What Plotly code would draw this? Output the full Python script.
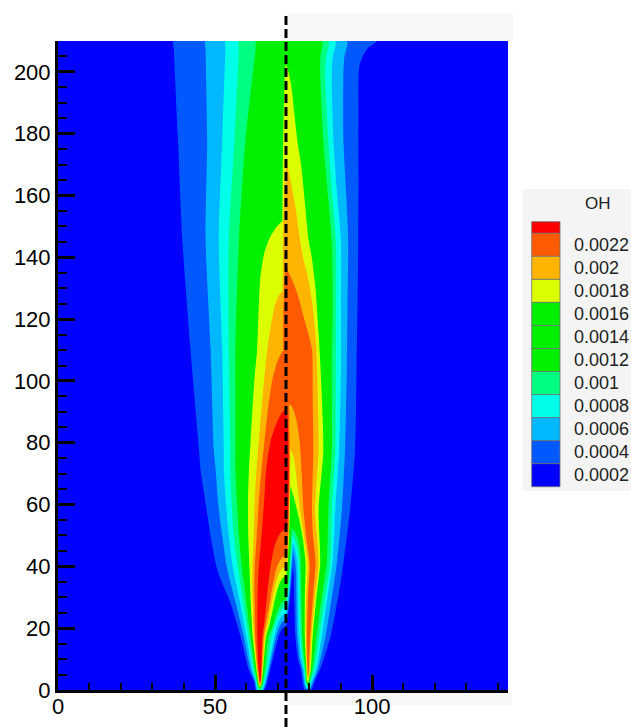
import plotly.graph_objects as go

# ---------------- data ----------------
# OH mass fraction field, shown as filled contour bands.
# Left of the split line: flame A, right of it: flame B.
SPLIT_X = 72.6
X_MAX = 143.3
Y_MAX = 210

# contour levels (units of 1e-4) and the colour of the region above each level
LEVELS = [2, 4, 6, 8, 10, 16, 18, 20, 22]
LEVEL_COLORS = ["#0058ff", "#00b8ff", "#00ffe8", "#00ff80", "#00f000",
                "#dcff00", "#ffb400", "#ff5a00", "#ff0000"]
BACKGROUND_COLOR = "#0000ff"   # region below 0.0002

# Left flame: outer boundary (base -> top) and inner arch (split line -> base), (x, y) points
left_out_02 = [(63.0, 0), (62.5, 2.4), (60.7, 6.7), (58.1, 17.4), (54.9, 28.2), (50.7, 39.0), (48.6, 49.8),
               (47.0, 60.5), (45.4, 71.3), (44.9, 77.8), (42.2, 110.1), (39.6, 145.6), (38.2, 177.9),
               (36.9, 207), (36.8, 210)]
left_in_02 = [(72.6, 20.7), (71.8, 20.3), (71.0, 19.2), (70.3, 17.4), (67.6, 6.7), (65.6, 0)]

left_out_04 = [(63.3, 0), (62.8, 2.4), (61.3, 6.7), (59.1, 17.4), (56.6, 28.2), (53.9, 39.0), (52.3, 49.8),
               (51.0, 60.5), (50.2, 71.3), (49.6, 77.8), (48.6, 110.1), (47.0, 145.6), (47.5, 177.9),
               (47.0, 207), (47.0, 210)]
left_in_04 = [(72.6, 22.8), (71.8, 22.3), (70.9, 21.2), (69.5, 17.4), (67.2, 6.7), (65.3, 0)]

left_out_06 = [(63.6, 0), (63.1, 2.4), (61.9, 6.7), (60.0, 17.4), (58.0, 28.2), (55.8, 39.0), (54.4, 49.8),
               (53.5, 60.5), (52.8, 71.3), (52.8, 77.8), (52.3, 110.1), (51.2, 145.6), (52.3, 177.9),
               (53.3, 207), (53.4, 210)]
left_in_06 = [(72.6, 25.0), (71.8, 24.5), (70.8, 23.2), (69.8, 21.0), (68.9, 17.4), (66.8, 6.7), (65.0, 0)]

left_out_08 = [(63.8, 0.3), (63.3, 2.4), (62.3, 6.7), (60.7, 17.4), (59.0, 28.2), (57.4, 39.0), (56.0, 49.8),
               (55.3, 60.5), (54.9, 71.3), (54.9, 77.8), (54.4, 110.1), (54.4, 145.6), (56.2, 177.9),
               (57.6, 207), (57.7, 210)]
left_in_08 = [(72.6, 27.1), (71.8, 26.6), (70.8, 25.3), (69.5, 22.5), (68.0, 17.4), (66.4, 6.7), (64.8, 0.3)]

left_out_10 = [(64.0, 0.6), (63.5, 2.4), (62.7, 6.7), (61.3, 17.4), (60.0, 28.2), (58.6, 39.0), (57.6, 49.8),
               (57.0, 60.5), (56.5, 71.3), (56.5, 77.8), (56.5, 110.1), (57.6, 145.6), (59.7, 177.9),
               (62.9, 207), (63.2, 210)]
left_in_10 = [(72.6, 29.3), (71.8, 28.8), (70.8, 27.5), (69.5, 24.5), (68.2, 20.0), (67.1, 17.4), (65.9, 6.7),
              (64.6, 0.6)]

left_out_16 = [(64.1, 1.2), (63.8, 2.4), (63.2, 6.7), (62.0, 17.4), (61.4, 28.2), (61.0, 39.0), (60.6, 49.8),
               (60.5, 60.5), (60.8, 71.3), (61.3, 80), (62.5, 100), (63.4, 110.1), (64.4, 133), (65.6, 141),
               (67.3, 146), (69.5, 149.7), (71.2, 151.5), (72.6, 152.1)]
left_in_16 = [(72.6, 37.0), (71.7, 36.4), (70.8, 35.0), (69.6, 31.5), (68.4, 26.0), (67.3, 21.0), (66.3, 17.4),
              (65.3, 6.7), (64.5, 1.2)]

left_out_18 = [(64.2, 1.6), (63.9, 2.4), (63.4, 6.7), (62.4, 17.4), (62.0, 28.2), (61.9, 39.0), (62.3, 49.8),
               (62.6, 60.5), (63.2, 71.3), (64.3, 85), (65.6, 100), (66.6, 110), (67.8, 118), (69.2, 125),
               (70.5, 128), (71.6, 129.2), (72.6, 129.5)]
left_in_18 = [(72.6, 40.0), (71.6, 39.4), (70.6, 38.0), (69.5, 35.0), (68.2, 29.0), (66.9, 22.0), (65.9, 17.4),
              (65.1, 6.7), (64.6, 1.6)]

left_out_20 = [(64.3, 2.2), (64.0, 4), (63.6, 6.7), (62.8, 17.4), (62.6, 28.2), (62.6, 39.0), (63.3, 49.8),
               (63.9, 60.5), (64.8, 71.3), (65.9, 82), (67.0, 92), (68.2, 100), (69.3, 104.5), (70.5, 107.8),
               (71.6, 109.6), (72.6, 110.3)]
left_in_20 = [(72.6, 43.5), (71.6, 43.0), (70.6, 41.8), (69.6, 39.5), (68.4, 34.0), (67.2, 27.0), (65.5, 17.4),
              (64.9, 6.7), (64.5, 2.2)]

left_out_22 = [(64.3, 2.8), (64.1, 4.5), (63.9, 6.7), (63.5, 17.4), (63.5, 28.2), (63.9, 39.0), (64.8, 49.8),
               (65.6, 60.5), (66.3, 71.3), (67.6, 80), (68.9, 84.5), (70.2, 87.8), (71.4, 89.8), (72.6, 90.7)]
left_in_22 = [(72.6, 52.0), (71.6, 51.6), (70.6, 50.5), (69.6, 48.5), (68.7, 45.5), (68.0, 42.0), (67.4, 38.0),
              (66.5, 30.0), (65.7, 22.0), (65.1, 17.4), (64.7, 6.7), (64.45, 2.8)]

# Right flame: inner arch (split line -> base) and outer boundary (base -> top / split line)
right_in_02 = [(72.6, 45.0), (73.6, 44.2), (74.5, 42.0), (75.0, 38.0), (75.2, 30.0), (75.6, 17.4), (76.4, 10.0),
               (77.3, 6.7), (78.6, 0)]
right_out_02 = [(80.6, 0), (81.8, 3), (83.5, 6.7), (86.8, 17.4), (89.2, 30.0), (90.9, 41.2), (93.0, 58.3),
                (94.6, 77.8), (95.1, 105), (95.4, 125), (95.6, 145), (95.7, 165), (95.7, 198), (96.0, 202),
                (97.0, 205), (98.5, 207.5), (101.5, 210)]

right_in_04 = [(72.6, 47.2), (73.5, 46.7), (74.5, 45.5), (75.4, 42.5), (75.8, 38.0), (75.9, 30.0), (76.2, 17.4),
               (77.0, 10.0), (77.8, 6.7), (78.9, 0.5)]
right_out_04 = [(80.3, 0.5), (81.4, 3), (82.8, 6.7), (85.2, 17.4), (87.2, 30.0), (88.8, 41.2), (90.4, 58.3),
                (91.4, 77.8), (92.0, 105), (92.2, 125), (92.4, 145), (91.8, 160), (90.9, 177.9), (90.9, 200),
                (91.2, 205), (92.0, 210)]

right_in_06 = [(72.6, 49.2), (74.0, 48.5), (75.2, 46.5), (76.0, 43.0), (76.4, 38.0), (76.5, 30.0), (76.8, 17.4),
               (77.5, 10.0), (78.2, 6.7), (79.1, 1.0)]
right_out_06 = [(80.0, 1.0), (80.9, 3.2), (82.2, 6.7), (84.0, 17.4), (85.8, 30.0), (87.4, 41.2), (88.3, 58.3),
                (89.5, 77.8), (90.1, 105), (90.1, 125), (90.1, 145), (88.9, 160), (87.7, 177.9), (87.2, 200),
                (87.5, 205), (88.3, 210)]

right_in_08 = [(72.6, 51.0), (74.5, 50.2), (75.8, 47.5), (76.6, 43.5), (76.9, 38.0), (77.0, 30.0), (77.3, 17.4),
               (78.0, 10.0), (78.5, 6.7), (79.2, 1.4)]
right_out_08 = [(79.9, 1.4), (80.6, 3.4), (81.6, 6.7), (83.2, 17.4), (85.0, 30.0), (86.7, 41.2), (87.2, 58.3),
                (88.3, 77.8), (88.5, 105), (88.6, 125), (88.5, 145), (87.3, 160), (86.1, 177.9), (85.1, 200),
                (85.4, 205), (86.1, 210)]

right_in_10 = [(72.6, 53.0), (73.8, 52.7), (75.2, 51.5), (76.5, 48.5), (77.2, 44.0), (77.4, 38.0), (77.5, 30.0),
               (77.8, 17.4), (78.4, 10.0), (78.8, 6.7), (79.3, 1.8)]
right_out_10 = [(79.8, 1.8), (80.3, 3.6), (81.0, 6.7), (82.3, 17.4), (84.0, 30.0), (85.6, 41.2), (86.1, 58.3),
                (87.2, 77.8), (87.2, 105), (87.5, 125), (87.2, 145), (86.0, 160), (84.5, 177.9), (83.5, 200),
                (83.6, 205), (84.0, 210)]

right_in_16 = [(72.6, 68.1), (73.6, 66.7), (74.8, 63.5), (76.1, 58.3), (77.8, 50.0), (78.8, 41.2), (78.6, 30.0),
               (78.6, 17.4), (78.9, 10.0), (79.1, 6.7), (79.4, 2.6)]
right_out_16 = [(79.7, 2.6), (80.1, 4.5), (80.5, 6.7), (81.1, 17.4), (82.3, 30.0), (83.5, 41.2), (83.0, 58.3),
                (84.5, 77.8), (83.8, 100), (83.0, 115), (82.0, 130), (80.8, 140), (79.8, 145.6), (78.6, 158),
                (77.4, 170), (76.2, 177.9), (75.2, 187), (74.5, 194), (73.5, 199.5), (72.6, 202.2)]

right_in_18 = [(72.6, 78.8), (73.8, 78.0), (75.0, 75.5), (76.0, 68.0), (77.1, 58.3), (78.3, 50.0), (79.5, 41.2),
               (79.0, 30.0), (78.9, 17.4), (79.1, 10.0), (79.3, 6.7), (79.5, 3.6)]
right_out_18 = [(79.7, 3.6), (80.0, 5.0), (80.2, 6.7), (80.7, 17.4), (81.8, 30.0), (83.0, 41.2), (81.9, 58.3),
                (83.0, 77.8), (82.6, 100), (82.2, 112), (81.0, 125), (79.5, 134), (78.2, 139.2), (77.1, 145.6),
                (75.6, 156.4), (74.2, 164.0), (73.3, 168.5), (72.6, 170.4)]

right_in_20 = [(72.6, 93.9), (74.6, 91.5), (76.0, 87.0), (77.0, 80.0), (77.6, 70.0), (78.2, 58.3), (79.0, 50.0),
               (80.1, 41.2), (79.6, 30.0), (79.3, 17.4), (79.4, 10.0), (79.5, 6.7), (79.6, 5.0)]
right_out_20 = [(79.7, 5.0), (79.9, 6.7), (80.3, 17.4), (81.2, 30.0), (82.0, 41.2), (81.2, 50.0), (80.9, 58.3),
                (81.3, 77.8), (81.1, 95), (80.9, 110), (79.8, 115), (78.2, 120.8), (76.6, 127), (75.0, 131.6),
                (73.6, 134.8), (72.6, 136.5)]

# legend (colour key)
legend_title = "OH"
legend_labels = ["0.0022", "0.002", "0.0018", "0.0016", "0.0014", "0.0012",
                 "0.001", "0.0008", "0.0006", "0.0004", "0.0002"]
legend_colors = ["#ff5a00", "#ffb400", "#dcff00", "#00f000", "#00f000", "#00f000",
                 "#00ff80", "#00ffe8", "#00b8ff", "#0058ff", "#0000ff"]
legend_top_color = "#ff0000"

x_tick_values = [0, 50, 100]
y_tick_values = [0, 20, 40, 60, 80, 100, 120, 140, 160, 180, 200]

# ---------------- figure ----------------
W, H = 631, 727
PLOT_L, PLOT_R, PLOT_T, PLOT_B = 58, 508, 41, 690
FONT = "Liberation Sans, Arial, Helvetica, sans-serif"


def px_x(px):
    return (px - PLOT_L) / (PLOT_R - PLOT_L)


def px_y(py):
    return (PLOT_B - py) / (PLOT_B - PLOT_T)


left_sides = {2: (left_out_02, left_in_02), 4: (left_out_04, left_in_04), 6: (left_out_06, left_in_06),
              8: (left_out_08, left_in_08), 10: (left_out_10, left_in_10), 16: (left_out_16, left_in_16),
              18: (left_out_18, left_in_18), 20: (left_out_20, left_in_20), 22: (left_out_22, left_in_22)}
right_sides = {2: (right_in_02, right_out_02), 4: (right_in_04, right_out_04), 6: (right_in_06, right_out_06),
               8: (right_in_08, right_out_08), 10: (right_in_10, right_out_10), 16: (right_in_16, right_out_16),
               18: (right_in_18, right_out_18), 20: (right_in_20, right_out_20)}

fig = go.Figure()


def add_region(points, color):
    xs = [p[0] for p in points] + [points[0][0]]
    ys = [p[1] for p in points] + [points[0][1]]
    fig.add_trace(go.Scatter(x=xs, y=ys, mode="lines", fill="toself", fillcolor=color,
                             line=dict(width=0, color=color, shape="spline", smoothing=0.7),
                             hoverinfo="skip", showlegend=False))


for level, color in zip(LEVELS, LEVEL_COLORS):
    if level in left_sides:
        outer, inner = left_sides[level]
        pts = list(outer)
        if outer[-1][1] >= Y_MAX:
            pts.append((SPLIT_X, Y_MAX))
        pts += list(inner)
        add_region(pts, color)
    if level in right_sides:
        inner, outer = right_sides[level]
        pts = list(inner) + list(outer)
        if outer[-1][1] >= Y_MAX:
            pts.append((SPLIT_X, Y_MAX))
        add_region(pts, color)

shapes = []
# light grey strips of the composite picture
shapes.append(dict(type="rect", xref="paper", yref="paper", x0=px_x(287), x1=px_x(513),
                   y0=px_y(41), y1=px_y(13), fillcolor="#f7f7f7", line=dict(width=0), layer="below"))
shapes.append(dict(type="rect", xref="paper", yref="paper", x0=px_x(287), x1=px_x(512),
                   y0=px_y(705), y1=px_y(692), fillcolor="#f7f7f7", line=dict(width=0), layer="below"))
# legend panel
shapes.append(dict(type="rect", xref="paper", yref="paper", x0=px_x(523), x1=px_x(640),
                   y0=px_y(491), y1=px_y(189), fillcolor="#f4f4f4", line=dict(width=0), layer="below"))
# dashed split line
shapes.append(dict(type="line", xref="x", yref="paper", x0=SPLIT_X, x1=SPLIT_X,
                   y0=px_y(727), y1=px_y(13), line=dict(color="black", width=3, dash="9px,4px")))

# legend boxes
BOX_X0, BOX_X1 = 531.7, 560.0
TOP_BOX_Y0, TOP_BOX_Y1 = 221.7, 233.3
BOX_H = 23.04
shapes.append(dict(type="rect", xref="paper", yref="paper", x0=px_x(BOX_X0), x1=px_x(BOX_X1),
                   y0=px_y(TOP_BOX_Y1), y1=px_y(TOP_BOX_Y0), fillcolor=legend_top_color,
                   line=dict(width=0.8, color="#707070")))
annotations = []
for i, (lab, col) in enumerate(zip(legend_labels, legend_colors)):
    y0 = TOP_BOX_Y1 + i * BOX_H
    y1 = y0 + BOX_H
    shapes.append(dict(type="rect", xref="paper", yref="paper", x0=px_x(BOX_X0), x1=px_x(BOX_X1),
                       y0=px_y(y1), y1=px_y(y0), fillcolor=col, line=dict(width=0.8, color="#707070")))
    annotations.append(dict(text=lab, xref="paper", yref="paper", x=px_x(571.5), y=px_y((y0 + y1) / 2),
                            xanchor="left", yanchor="middle", showarrow=False,
                            font=dict(size=18, family=FONT, color="#222222")))
annotations.append(dict(text=legend_title, xref="paper", yref="paper", x=px_x(598), y=px_y(203),
                        xanchor="center", yanchor="middle", showarrow=False,
                        font=dict(size=17, family=FONT, color="#222222")))

fig.update_layout(
    width=W, height=H,
    margin=dict(l=PLOT_L, r=W - PLOT_R, t=PLOT_T, b=H - PLOT_B, pad=0, autoexpand=False),
    paper_bgcolor="white", plot_bgcolor=BACKGROUND_COLOR,
    showlegend=False,
    shapes=shapes, annotations=annotations,
    xaxis=dict(range=[0, X_MAX], showgrid=False, zeroline=False, showline=True, linewidth=3,
               linecolor="black", ticks="inside", ticklen=15, tickwidth=3, tickcolor="black",
               tickvals=x_tick_values, ticktext=[str(v) for v in x_tick_values],
               ticklabelstandoff=-5, automargin=False,
               tickfont=dict(size=22, family=FONT, color="black"),
               minor=dict(ticks="inside", dtick=10, tick0=0, ticklen=7, tickwidth=2, tickcolor="black",
                          showgrid=False)),
    yaxis=dict(range=[0, Y_MAX], showgrid=False, zeroline=False, showline=True, linewidth=3,
               linecolor="black", ticks="inside", ticklen=17, tickwidth=3, tickcolor="black",
               tickvals=y_tick_values, ticktext=[str(v) for v in y_tick_values], automargin=False,
               tickfont=dict(size=22, family=FONT, color="black"),
               minor=dict(ticks="inside", dtick=5, tick0=0, ticklen=9, tickwidth=2, tickcolor="black",
                          showgrid=False)),
)

fig.write_html("out.html")
